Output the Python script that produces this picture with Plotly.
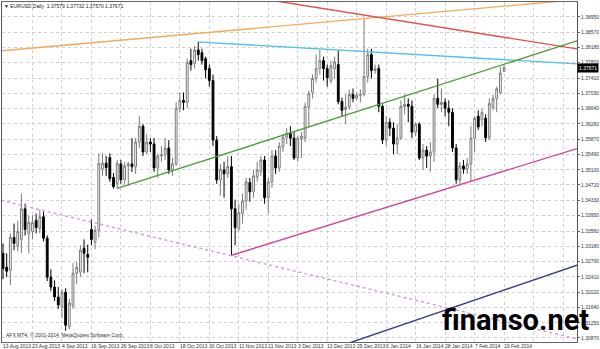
import plotly.graph_objects as go

# ---- data (daily EURUSD bars, index 0 = 13 Aug 2013) ----
opens = [1.3300,1.3265,1.3257,1.3340,1.3318,1.3335,1.3412,1.3350,1.3355,1.3383,
         1.3363,1.3392,1.3338,1.3240,1.3215,1.3190,1.3166,1.3202,1.3115,1.3168,
         1.3250,1.3253,1.3313,1.3297,1.3360,1.3328,1.3358,1.3512,1.3527,1.3541,
         1.3491,1.3476,1.3525,1.3485,1.3520,1.3525,1.3518,1.3580,1.3620,1.3555,
         1.3580,1.3575,1.3515,1.3545,1.3548,1.3565,1.3510,1.3525,1.3665,1.3685,
         1.3680,1.3785,1.3778,1.3812,1.3805,1.3790,1.3765,1.3735,1.3585,1.3485,
         1.3510,1.3500,1.3518,1.3412,1.3362,1.3400,1.3432,1.3478,1.3456,1.3492,
         1.3505,1.3535,1.3440,1.3480,1.3545,1.3515,1.3568,1.3592,1.3602,1.3590,
         1.3540,1.3588,1.3590,1.3668,1.3705,1.3740,1.3765,1.3785,1.3765,1.3735,
         1.3765,1.3775,1.3682,1.3662,1.3668,1.3700,1.3690,1.3698,1.3700,1.3745,
         1.3800,1.3760,1.3765,1.3670,1.3585,1.3630,1.3615,1.3575,1.3590,1.3670,
         1.3675,1.3670,1.3605,1.3625,1.3540,1.3560,1.3545,1.3555,1.3690,1.3675,
         1.3680,1.3665,1.3655,1.3565,1.3485,1.3520,1.3512,1.3525,1.3590,1.3645,
         1.3637,1.3640,1.3591,1.3667,1.3689,1.3704,1.37579]
highs = [1.3325,1.3300,1.3350,1.3375,1.3382,1.3450,1.3425,1.3395,1.3395,1.3400,
         1.3410,1.3405,1.3345,1.3260,1.3232,1.3215,1.3210,1.3212,1.3185,1.3275,
         1.3278,1.3320,1.3335,1.3322,1.3385,1.3370,1.3551,1.3552,1.3545,1.3552,
         1.3502,1.3535,1.3535,1.3530,1.3530,1.3590,1.3590,1.3645,1.3625,1.3600,
         1.3590,1.3590,1.3550,1.3570,1.3590,1.3585,1.3540,1.3680,1.3705,1.3705,
         1.3790,1.3815,1.3822,1.3832,1.3815,1.3795,1.3775,1.3750,1.3595,1.3525,
         1.3530,1.3545,1.3545,1.3435,1.3425,1.3450,1.3490,1.3490,1.3510,1.3530,
         1.3545,1.3545,1.3490,1.3560,1.3560,1.3580,1.3600,1.3615,1.3620,1.3605,
         1.3595,1.3605,1.3680,1.3710,1.3750,1.3800,1.3812,1.3795,1.3775,1.3785,
         1.3795,1.3810,1.3692,1.3700,1.3712,1.3715,1.3705,1.3712,1.3893,1.3815,
         1.3815,1.3775,1.3775,1.3675,1.3645,1.3640,1.3630,1.3625,1.3685,1.3700,
         1.3690,1.3685,1.3630,1.3630,1.3575,1.3570,1.3580,1.3700,1.3740,1.3715,
         1.3690,1.3685,1.3665,1.3575,1.3530,1.3535,1.3540,1.3620,1.3645,1.3660,
         1.3665,1.3650,1.3690,1.3700,1.3720,1.3770,1.37732]
lows = [1.3235,1.3240,1.3220,1.3308,1.3305,1.3300,1.3345,1.3300,1.3335,1.3350,
        1.3350,1.3330,1.3230,1.3205,1.3180,1.3160,1.3137,1.3105,1.3108,1.3160,
        1.3222,1.3240,1.3250,1.3252,1.3320,1.3310,1.3340,1.3495,1.3495,1.3480,
        1.3463,1.3463,1.3475,1.3475,1.3470,1.3505,1.3500,1.3565,1.3545,1.3550,
        1.3555,1.3505,1.3490,1.3530,1.3535,1.3500,1.3495,1.3520,1.3655,1.3660,
        1.3665,1.3760,1.3765,1.3785,1.3775,1.3740,1.3720,1.3570,1.3475,1.3445,
        1.3440,1.3490,1.3295,1.3320,1.3355,1.3375,1.3410,1.3430,1.3440,1.3480,
        1.3495,1.3425,1.3400,1.3465,1.3500,1.3505,1.3555,1.3575,1.3570,1.3535,
        1.3530,1.3540,1.3580,1.3620,1.3690,1.3730,1.3750,1.3735,1.3720,1.3728,
        1.3740,1.3675,1.3645,1.3625,1.3662,1.3680,1.3685,1.3680,1.3695,1.3730,
        1.3740,1.3752,1.3655,1.3575,1.3570,1.3595,1.3550,1.3550,1.3585,1.3650,
        1.3630,1.3590,1.3595,1.3535,1.3510,1.3515,1.3505,1.3530,1.3665,1.3655,
        1.3645,1.3620,1.3555,1.3475,1.3475,1.3500,1.3500,1.3480,1.3555,1.3610,
        1.3620,1.3580,1.3585,1.3660,1.3655,1.3700,1.37570]
closes = [1.3262,1.3255,1.3340,1.3325,1.3355,1.3412,1.3360,1.3378,1.3378,1.3365,
          1.3392,1.3338,1.3240,1.3215,1.3190,1.3170,1.3202,1.3119,1.3175,1.3250,
          1.3265,1.3308,1.3300,1.3290,1.3335,1.3358,1.3526,1.3527,1.3516,1.3488,
          1.3468,1.3526,1.3485,1.3520,1.3525,1.3518,1.3580,1.3620,1.3555,1.3580,
          1.3575,1.3515,1.3545,1.3548,1.3565,1.3510,1.3525,1.3665,1.3685,1.3680,
          1.3780,1.3775,1.3812,1.3800,1.3785,1.3762,1.3735,1.3585,1.3485,1.3512,
          1.3500,1.3518,1.3412,1.3365,1.3402,1.3432,1.3480,1.3455,1.3495,1.3510,
          1.3535,1.3440,1.3480,1.3545,1.3515,1.3570,1.3592,1.3602,1.3590,1.3540,
          1.3590,1.3595,1.3670,1.3702,1.3740,1.3765,1.3785,1.3765,1.3742,1.3772,
          1.3782,1.3682,1.3660,1.3668,1.3700,1.3690,1.3698,1.3700,1.3745,1.3800,
          1.3760,1.3765,1.3670,1.3585,1.3630,1.3615,1.3575,1.3590,1.3670,1.3675,
          1.3670,1.3605,1.3625,1.3540,1.3560,1.3545,1.3555,1.3690,1.3675,1.3680,
          1.3665,1.3655,1.3565,1.3485,1.3520,1.3512,1.3525,1.3590,1.3640,1.3618,
          1.3654,1.3591,1.3677,1.3689,1.3714,1.3754,1.37671]

date_tick_bars = [0, 8, 16, 24, 32, 40, 48, 56, 64, 72, 80, 88, 96, 104, 112, 120, 128, 136]
date_tick_labels = ["13 Aug 2013", "23 Aug 2013", "4 Sep 2013", "16 Sep 2013", "26 Sep 2013",
                    "8 Oct 2013", "18 Oct 2013", "30 Oct 2013", "11 Nov 2013", "21 Nov 2013",
                    "3 Dec 2013", "13 Dec 2013", "25 Dec 2013", "6 Jan 2014", "16 Jan 2014",
                    "28 Jan 2014", "7 Feb 2014", "19 Feb 2014"]
grid_bars_future = [144, 152]

price_ticks = [1.38950, 1.38570, 1.38180, 1.37800, 1.37410, 1.37030, 1.36640, 1.36260,
               1.35870, 1.35490, 1.35100, 1.34720, 1.34330, 1.33950, 1.33560, 1.33180,
               1.32790, 1.32410, 1.32020, 1.31640, 1.31250, 1.30870]
price_tick_labels = ["%.5f" % p for p in price_ticks]

current_price = 1.37671
header = "EURUSD,Daily  1.37579 1.37732 1.37570 1.37671"

# trend lines: (bar0, price0, bar1, price1, color, dash)
trendlines = [
    (-0.54, 1.38097, 155.8, 1.39384, "#f4a95c", "solid"),   # orange
    (70.6, 1.39402, 155.8, 1.38147, "#e0504c", "solid"),    # red
    (52.8, 1.38323, 155.8, 1.37770, "#4ec0ea", "solid"),    # light blue
    (31.0, 1.34633, 155.8, 1.38348, "#4f9a3c", "solid"),    # green
    (62.0, 1.32951, 155.8, 1.35637, "#d2439e", "solid"),    # magenta
    (89.2, 1.30592, 155.8, 1.32700, "#3a3c8c", "solid"),    # navy
    (-0.54, 1.34332, 155.8, 1.30843, "#d694e0", "dot"),     # violet dotted
]

bars = list(range(len(opens)))

fig = go.Figure()
fig.add_trace(go.Candlestick(
    x=bars, open=opens, high=highs, low=lows, close=closes,
    increasing=dict(line=dict(color="#7a7a7a", width=1), fillcolor="#ffffff"),
    decreasing=dict(line=dict(color="#000000", width=1), fillcolor="#000000"),
    whiskerwidth=0, showlegend=False, hoverinfo="skip",
))

shapes = []
for b0, p0, b1, p1, col, dash in trendlines:
    shapes.append(dict(type="line", xref="x", yref="y", x0=b0, y0=p0, x1=b1, y1=p1,
                       line=dict(color=col, width=1.4, dash=dash), layer="above"))
fig.update_layout(shapes=shapes)

annotations = []
for b, lab in zip(date_tick_bars, date_tick_labels):
    annotations.append(dict(x=b, xref="x", y=0, yref="paper", text=lab, showarrow=False,
                            xanchor="left", yanchor="top", yshift=0, xshift=-1, borderpad=0,
                            font=dict(size=5, color="#333333", family="Liberation Sans")))
annotations.append(dict(x=0, xref="paper", y=1, yref="paper", text="\u25bc " + header,
                        showarrow=False, xanchor="left", yanchor="top", xshift=1, yshift=0,
                        borderpad=0,
                        font=dict(size=5, color="#222222", family="Liberation Sans")))
annotations.append(dict(x=0, xref="paper", y=0, yref="paper",
                        text="AFX MT4, \u00a9 2001-2014, MetaQuotes Software Corp.",
                        showarrow=False, xanchor="left", yanchor="bottom", xshift=2, yshift=2,
                        font=dict(size=5, color="#333333", family="Liberation Sans")))
annotations.append(dict(x=1, xref="paper", y=current_price, yref="y", text="%.5f" % current_price,
                        showarrow=False, xanchor="left", yanchor="middle", xshift=0,
                        bgcolor="#000000", borderpad=1,
                        font=dict(size=5, color="#ffffff", family="Liberation Sans")))
annotations.append(dict(x=0.762, xref="paper", y=0.010, yref="paper", text="<b>finanso.net</b>",
                        showarrow=False, xanchor="left", yanchor="bottom",
                        font=dict(size=29, color="#000000", family="Roboto")))

fig.update_layout(
    width=600, height=349,
    margin=dict(l=1, r=20, t=1, b=7),
    paper_bgcolor="#ffffff", plot_bgcolor="#ffffff",
    annotations=annotations,
    xaxis=dict(range=[-0.27, 155.8], rangeslider=dict(visible=False),
               tickvals=date_tick_bars + grid_bars_future, showticklabels=False,
               showgrid=True, gridcolor="#cfcfcf", griddash="dot", gridwidth=1,
               zeroline=False, showline=True, linecolor="#666666", linewidth=1, mirror=True,
               ticks=""),
    yaxis=dict(range=[1.307674, 1.393265], side="right",
               tickvals=price_ticks, ticktext=price_tick_labels,
               tickfont=dict(size=5, color="#333333", family="Liberation Sans"),
               ticks="outside", ticklen=2, tickcolor="#666666",
               showgrid=True, gridcolor="#cfcfcf", griddash="dot", gridwidth=1,
               zeroline=False, showline=True, linecolor="#555555", linewidth=1, mirror=True),
)

fig.write_html("out.html")
